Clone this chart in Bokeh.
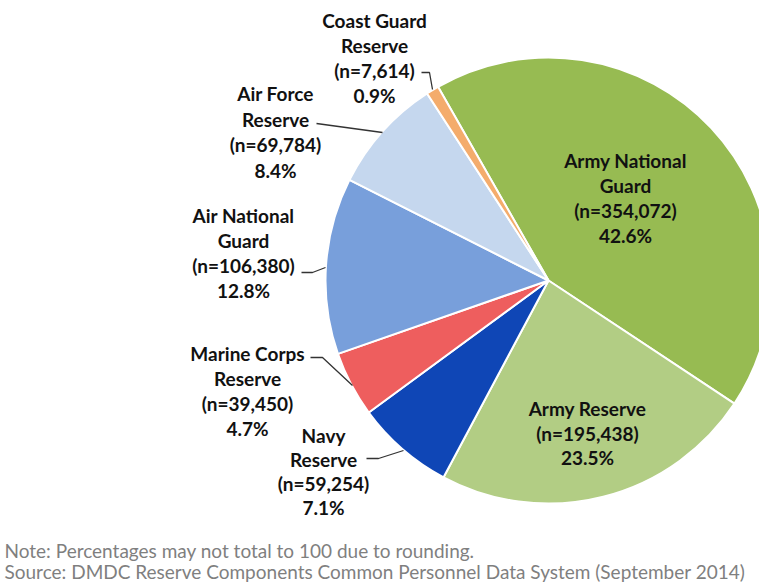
import numpy as np
from bokeh.plotting import figure
from bokeh.models import Range1d, ColumnDataSource
from bokeh.core.properties import value
from bokeh.embed import file_html
from bokeh.resources import INLINE

# ---- data (clockwise from the top-left boundary) ----
components = ["Army National Guard", "Army Reserve", "Navy Reserve", "Marine Corps Reserve",
              "Air National Guard", "Air Force Reserve", "Coast Guard Reserve"]
counts = [354072, 195438, 59254, 39450, 106380, 69784, 7614]
pct_labels = ["42.6%", "23.5%", "7.1%", "4.7%", "12.8%", "8.4%", "0.9%"]
count_labels = ["(n=354,072)", "(n=195,438)", "(n=59,254)", "(n=39,450)",
                "(n=106,380)", "(n=69,784)", "(n=7,614)"]
name_lines = [["Army National", "Guard"], ["Army Reserve"], ["Navy", "Reserve"],
              ["Marine Corps", "Reserve"], ["Air National", "Guard"],
              ["Air Force", "Reserve"], ["Coast Guard", "Reserve"]]
notes = ["Note: Percentages may not total to 100 due to rounding.",
         "Source: DMDC Reserve Components Common Personnel Data System (September 2014)"]

# ---- styles / layout ----
colors = ["#97BB52", "#B2CD84", "#0F46B6", "#EE5E5E", "#789FDB", "#C5D7EE", "#F4AC6C"]
W, H = 759, 582
FONT = "Lato"


def Y(ry):
    return H - ry


cx, cy, R = 548, Y(280), 223
start_deg = 90 + 29.7

p = figure(width=W, height=H, output_backend="svg", toolbar_location=None,
           x_range=Range1d(0, W), y_range=Range1d(0, H), min_border=0)
p.axis.visible = False
p.grid.visible = False
p.outline_line_color = None
p.background_fill_color = "white"
p.border_fill_color = "white"

vals = np.array(counts, dtype=float)
fr = vals / vals.sum()
ends = np.cumsum(fr) * 2 * np.pi
starts = np.concatenate([[0], ends[:-1]])
s_ang = np.deg2rad(start_deg) - starts
e_ang = np.deg2rad(start_deg) - ends

src = ColumnDataSource(dict(x=[cx] * len(counts), y=[cy] * len(counts),
                            start=s_ang, end=e_ang, color=colors))
p.wedge(x="x", y="y", radius=R, radius_units="screen", start_angle="start",
        end_angle="end", direction="clock", fill_color="color",
        line_color="white", line_width=2, source=src)

# label anchors: (center x, first line y, line spacing)
label_pos = {
    0: (625, 160, 25), 1: (587, 408, 24.5), 2: (323, 435, 24),
    3: (247, 353, 25), 4: (243, 215, 25), 5: (275, 93, 25.5), 6: (374, 20, 25),
}
tx, ty, tt = [], [], []
for i in range(len(counts)):
    lines = name_lines[i] + [count_labels[i], pct_labels[i]]
    x0, y0, dy = label_pos[i]
    for k, ln in enumerate(lines):
        tx.append(x0)
        ty.append(Y(y0 + k * dy))
        tt.append(ln)
p.text(x=tx, y=ty, text=tt, text_align="center", text_baseline="middle",
       text_font=value(FONT), text_font_style="bold", text_font_size="19px",
       text_color="#111111")

# leader lines
leaders = [
    ([421, 429, 432], [72, 72, 89]),
    ([316, 382], [123, 132]),
    ([301, 312, 325], [272, 272, 267]),
    ([310, 322, 352], [357, 357, 385]),
    ([366, 378, 403], [458, 458, 450]),
]
for xs, ys in leaders:
    p.line(xs, [Y(v) for v in ys], line_color="#333333", line_width=1.3)

# notes
p.text(x=[4, 4], y=[Y(550), Y(571)], text=notes, text_align="left",
       text_baseline="middle", text_font=value(FONT), text_font_size="19px",
       text_color="#7F7F7F")

open("out.html", "w").write(file_html(p, INLINE))
